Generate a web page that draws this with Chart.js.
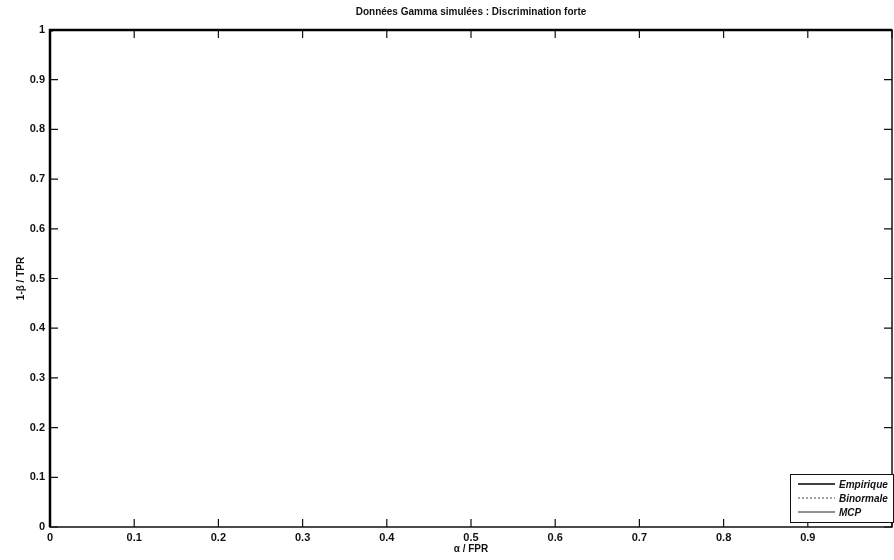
<!DOCTYPE html>
<html>
<head>
<meta charset="utf-8">
<script src="https://cdn.jsdelivr.net/npm/chart.js@4.4.0/dist/chart.umd.min.js"></script>
<style>
  html, body { margin: 0; padding: 0; background: #fff; }
  #wrap { width: 894px; height: 560px; }
</style>
</head>
<body>
<div id="wrap"><canvas id="roc"></canvas></div>
<script>
// données ROC (courbes collées au coin supérieur gauche)
var fprEmpirique = [0, 0, 0.33, 1];
var tprEmpirique = [0, 1, 1, 1];
var fprBinormale = [0, 0, 0.005, 0.5, 1];
var tprBinormale = [0, 0.995, 1, 1, 1];
var fprMCP = [0, 0, 1];
var tprMCP = [0, 1, 1];
var tickValues = [0, 0.1, 0.2, 0.3, 0.4, 0.5, 0.6, 0.7, 0.8, 0.9, 1];
var seriesNames = ['Empirique', 'Binormale', 'MCP'];

function toPoints(xs, ys) {
  return xs.map(function(x, i) { return { x: x, y: ys[i] }; });
}
function fmt(v) {
  if (v === 0 || v === 1) return String(v);
  return v.toFixed(1);
}

var FONT = '"Liberation Sans", Arial, sans-serif';

// cadre, graduations vers l'intérieur, titres et légende façon MATLAB
var matlabStyle = {
  id: 'matlabStyle',
  beforeDatasetsDraw: function(chart) {
    var ctx = chart.ctx;
    var a = chart.chartArea;
    var xs = chart.scales.x, ys = chart.scales.y;
    ctx.save();
    ctx.strokeStyle = '#111';
    ctx.lineWidth = 1.5;
    ctx.strokeRect(a.left, a.top, a.right - a.left, a.bottom - a.top);

    ctx.lineWidth = 1.2;
    tickValues.forEach(function(v) {
      var px = xs.getPixelForValue(v);
      ctx.beginPath();
      ctx.moveTo(px, a.bottom); ctx.lineTo(px, a.bottom - 8);
      ctx.moveTo(px, a.top); ctx.lineTo(px, a.top + 8);
      var py = ys.getPixelForValue(v);
      ctx.moveTo(a.left, py); ctx.lineTo(a.left + 8, py);
      ctx.moveTo(a.right, py); ctx.lineTo(a.right - 8, py);
      ctx.stroke();
    });
    ctx.restore();
  },
  afterDraw: function(chart) {
    var ctx = chart.ctx;
    var a = chart.chartArea;
    var xs = chart.scales.x, ys = chart.scales.y;
    ctx.save();
    ctx.fillStyle = '#111';
    ctx.font = 'bold 10px ' + FONT;
    ctx.textAlign = 'center';
    ctx.textBaseline = 'middle';
    ctx.fillText('Données Gamma simulées : Discrimination forte', (a.left + a.right) / 2, 12);
    ctx.fillText('α / FPR', xs.getPixelForValue(0.5), 549);

    ctx.save();
    ctx.translate(21, ys.getPixelForValue(0.5));
    ctx.rotate(-Math.PI / 2);
    ctx.fillText('1-β / TPR', 0, 0);
    ctx.restore();

    // légende en bas à droite
    var lx = 790, ly = 474, lw = 103, lh = 48;
    ctx.fillStyle = '#fff';
    ctx.fillRect(lx, ly, lw, lh);
    ctx.strokeStyle = '#111';
    ctx.lineWidth = 1;
    ctx.strokeRect(lx + 0.5, ly + 0.5, lw, lh);
    var dsets = chart.data.datasets;
    ctx.font = 'italic bold 10px ' + FONT;
    ctx.textAlign = 'left';
    dsets.forEach(function(ds, i) {
      var yy = ly + 10 + i * 14;
      ctx.strokeStyle = ds.borderColor;
      ctx.lineWidth = Math.min(ds.borderWidth, 1.6);
      ctx.setLineDash(ds.borderDash || []);
      ctx.beginPath();
      ctx.moveTo(lx + 8, yy); ctx.lineTo(lx + 45, yy);
      ctx.stroke();
      ctx.setLineDash([]);
      ctx.fillStyle = '#111';
      ctx.fillText(ds.label, lx + 49, yy + 1);
    });
    ctx.restore();
  }
};

var ctx = document.getElementById('roc').getContext('2d');
var rocChart = new Chart(ctx, {
  type: 'scatter',
  data: {
    datasets: [{
      label: seriesNames[0],
      data: toPoints(fprEmpirique, tprEmpirique),
      showLine: true,
      clip: false,
      borderColor: '#000',
      borderWidth: 2.5,
      pointRadius: 0,
      fill: false
    }, {
      label: seriesNames[1],
      data: toPoints(fprBinormale, tprBinormale),
      showLine: true,
      clip: false,
      borderColor: '#444',
      borderWidth: 1.2,
      borderDash: [2, 2],
      pointRadius: 0,
      fill: false
    }, {
      label: seriesNames[2],
      data: toPoints(fprMCP, tprMCP),
      showLine: true,
      clip: false,
      borderColor: '#222',
      borderWidth: 1,
      pointRadius: 0,
      fill: false
    }]
  },
  options: {
    responsive: true,
    maintainAspectRatio: false,
    animation: false,
    layout: { padding: { top: 30, right: 2, left: 0, bottom: 0 } },
    plugins: {
      legend: { display: false },
      tooltip: { enabled: false },
      title: { display: false }
    },
    scales: {
      x: {
        type: 'linear',
        min: 0, max: 1,
        grid: { display: false, drawTicks: false },
        border: { display: false },
        afterFit: function(s) { s.height = 33; },
        afterBuildTicks: function(s) {
          s.ticks = tickValues.slice(0, 10).map(function(v) { return { value: v }; });
        },
        ticks: {
          padding: 4,
          color: '#111',
          maxRotation: 0,
          font: { family: FONT, size: 11, weight: 'bold' },
          callback: function(v) { return fmt(v); }
        }
      },
      y: {
        type: 'linear',
        min: 0, max: 1,
        grid: { display: false, drawTicks: false },
        border: { display: false },
        afterFit: function(s) { s.width = 50; },
        afterBuildTicks: function(s) {
          s.ticks = tickValues.map(function(v) { return { value: v }; });
        },
        ticks: {
          padding: 5,
          color: '#111',
          font: { family: FONT, size: 11, weight: 'bold' },
          callback: function(v) { return fmt(v); }
        }
      }
    }
  },
  plugins: [matlabStyle]
});
</script>
</body>
</html>
